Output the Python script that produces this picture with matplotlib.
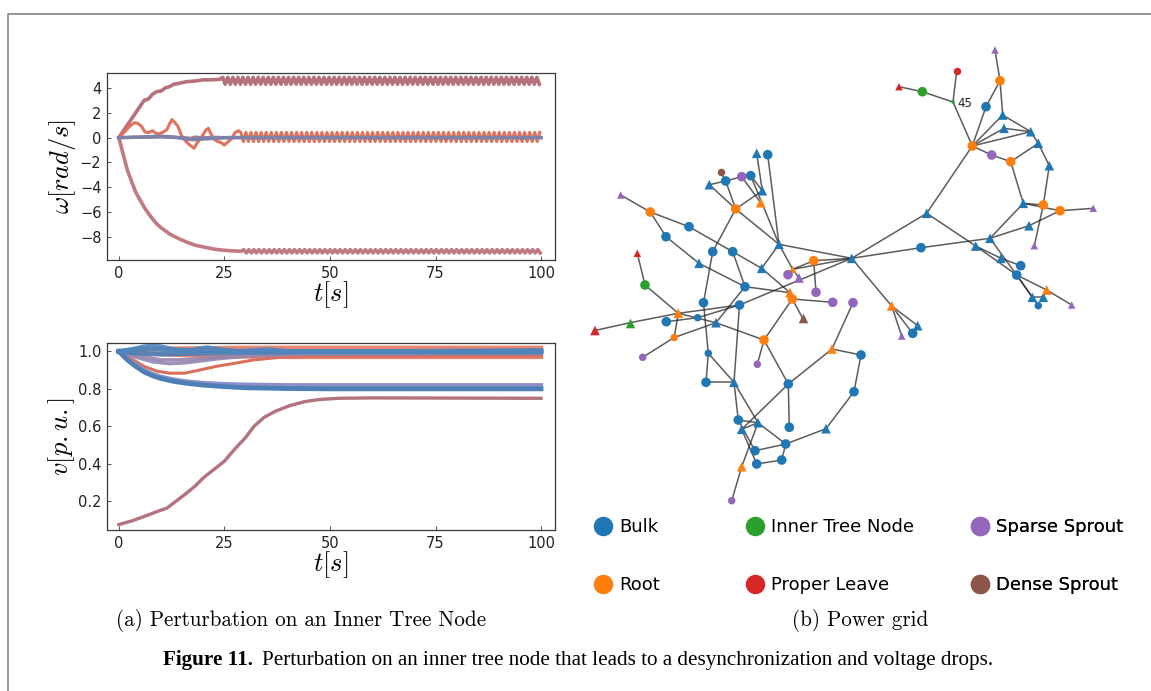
import numpy as np
import matplotlib
matplotlib.use("Agg")
import matplotlib.pyplot as plt
from matplotlib.collections import LineCollection
from matplotlib.lines import Line2D
from matplotlib.text import Annotation

plt.rcParams['mathtext.fontset'] = 'cm'
plt.rcParams['font.family'] = ['DejaVu Sans']

# ------------------------------------------------------------------
# (a) frequency traces  omega [rad/s]
# ------------------------------------------------------------------
RIPPLE_HALF = 0.6   # half period of the steady-state ripple [s]

w_up_t = [0, 1, 2, 3, 4, 5, 6, 7, 8, 9, 10, 11, 12, 13, 14, 16, 18, 20, 22, 24]
w_up = [0, 0.5, 1.0, 1.5, 2.0, 2.5, 3.0, 3.1, 3.5, 3.7, 3.75, 4.0, 4.1, 4.3,
        4.35, 4.5, 4.55, 4.65, 4.65, 4.7]
w_up_env = (4.85, 4.3)        # ripple peak / trough

w_dn_t = [0, 1, 2, 3, 4, 5, 6, 7, 8, 9, 10, 12, 14, 16, 18, 20, 23, 26, 29]
w_dn = [0, -1.3, -2.6, -3.5, -4.4, -5.0, -5.6, -6.1, -6.55, -6.95, -7.25,
        -7.75, -8.1, -8.4, -8.65, -8.8, -9.0, -9.1, -9.15]
w_dn_env = (-9.02, -9.28)

w_mid_t = [0, 1.5, 2.5, 3.7, 4.5, 5.4, 6.2, 7, 8, 8.8, 9.6, 10.5, 11.4, 12,
           12.6, 13.3, 14, 14.8, 15.6, 16.5, 17.2, 17.8, 18.6, 19.3, 19.9,
           20.6, 21.2, 21.8, 22.5, 23.3, 24.2, 25, 25.8, 26.7, 27.5, 28.3]
w_mid = [0, 0.5, 0.9, 1.2, 1.15, 0.9, 0.45, 0.4, 0.55, 0.35, 0.3, 0.45, 0.65,
         1.1, 1.45, 1.2, 0.9, 0.2, -0.2, -0.5, -0.7, -0.85, -0.4, -0.1, 0.2,
         0.6, 0.75, 0.3, -0.1, -0.3, -0.4, -0.6, -0.35, -0.1, 0.4, 0.55]
w_mid_env = (0.42, -0.32)

w_flat_t = [0, 5, 10, 13, 15, 17, 18, 20, 23, 26, 30, 100]
w_flat_a = [0, 0.05, 0.1, 0.05, -0.05, -0.15, -0.15, -0.1, -0.05, 0.0, 0.0, 0.0]
w_flat_b = [0, 0.02, 0.05, 0.0, 0.02, -0.05, 0.05, 0.0, 0.03, 0.0, 0.0, 0.0]

# ------------------------------------------------------------------
# (a) voltage magnitudes  v [p.u.]
# ------------------------------------------------------------------
v_b1_t = [0, 3, 6, 8, 10, 13, 16, 19, 21, 24, 28, 32, 35, 40, 100]
v_b1 = [1.0, 1.01, 1.025, 1.03, 1.025, 1.01, 1.0, 1.015, 1.02, 1.01, 1.0,
        1.005, 1.01, 1.0, 1.0]
v_b2_t = [0, 5, 10, 20, 30, 100]
v_b2 = [1.0, 1.015, 1.01, 1.005, 1.0, 0.995]
v_b3_t = [0, 5, 10, 20, 30, 100]
v_b3 = [1.0, 0.99, 0.985, 0.99, 0.995, 1.005]
v_s1_t = [0, 10, 30, 100]
v_s1 = [1.0, 1.015, 1.02, 1.02]
v_s2_t = [0, 10, 20, 40, 100]
v_s2 = [1.0, 0.985, 0.975, 0.97, 0.97]
v_dip_t = [0, 3, 6, 9, 12, 15.6, 19, 23, 27, 32, 38, 45, 100]
v_dip = [1.0, 0.96, 0.92, 0.895, 0.884, 0.884, 0.9, 0.92, 0.935, 0.955,
         0.968, 0.975, 0.975]
v_m1_t = [0, 4, 8, 12, 16, 23, 30, 40, 100]
v_m1 = [1.0, 0.97, 0.945, 0.935, 0.94, 0.96, 0.975, 0.985, 0.99]
v_m2_t = [0, 5, 10, 15, 25, 40, 100]
v_m2 = [1.0, 0.975, 0.955, 0.955, 0.97, 0.985, 0.995]
v_low_t = [0, 2, 4, 6, 8, 10, 13, 16, 20, 25, 30, 40, 50, 100]
v_l1 = [1.0, 0.96, 0.93, 0.9, 0.88, 0.865, 0.85, 0.84, 0.832, 0.826, 0.823,
        0.82, 0.82, 0.82]
v_l2 = [1.0, 0.955, 0.92, 0.89, 0.87, 0.855, 0.84, 0.83, 0.82, 0.812, 0.806,
        0.802, 0.80, 0.80]
v_drop_t = [0, 3, 6, 9, 11.4, 13.5, 15.6, 18, 20, 22.5, 25, 27.5, 30, 32,
            34.4, 37, 40.4, 44, 47.3, 52, 60, 100]
v_drop = [0.076, 0.095, 0.119, 0.145, 0.164, 0.2, 0.236, 0.28, 0.325, 0.37,
          0.414, 0.48, 0.54, 0.6, 0.648, 0.68, 0.71, 0.732, 0.743, 0.75,
          0.752, 0.75]

# ------------------------------------------------------------------
# (b) power grid: node layout per node class and marker shape
# ------------------------------------------------------------------
bulk_o = {
    'A7': (986, 106.7), 'C2': (921, 247.7), 'C7': (1020.7, 265.7),
    'C8': (1016.7, 275), 'C12': (1038.3, 305.7), 'C16': (912.7, 333.3),
    'D2': (767.7, 154.7), 'D4': (725.7, 181), 'D6': (750.7, 175.7),
    'D13': (712.7, 251.7), 'D14': (732.7, 251.7), 'D19': (745, 286.7),
    'D26': (739.5, 305), 'D27': (703.5, 302.7), 'E3': (689, 226.7),
    'E4': (666, 236.7), 'E15': (697.7, 317.7), 'E16': (666.3, 321.7),
    'F3': (708.3, 353.3), 'F5': (861, 355), 'F6': (706, 382.3),
    'F8': (788.3, 384), 'F9': (854, 391.7), 'F10': (738.3, 420),
    'F13': (789.3, 427.3), 'F15': (785.7, 444), 'F16': (755, 450.7),
    'F17': (756.7, 464), 'F18': (781.7, 460),
}
bulk_tri = {
    'A8': (1002.7, 115), 'A9': (1004, 128.3), 'A10': (1030.7, 131.7),
    'A12': (1038.3, 143.3), 'A15': (1049.3, 165.7), 'A16': (1023.3, 203.3),
    'A20': (926.7, 213.3), 'C3': (990, 238.3), 'C4': (1029, 225.7),
    'C5': (975.7, 246), 'C6': (1001, 258.3), 'C10': (1032.3, 297.3),
    'C11': (1043.3, 297.3), 'C15': (917.7, 325.7), 'H': (851.7, 258.3),
    'D1': (756.7, 153.3), 'D7': (709.3, 184.7), 'D8': (762.3, 190.7),
    'D11': (779, 244.3), 'D15': (761.7, 268.3), 'E8': (699, 263.3),
    'E17': (716, 322.7), 'F7': (734, 382.3), 'F11': (758, 422.7),
    'F12': (741.7, 429.3), 'F14': (826, 428.7),
}
root_o = {
    'A2': (1000, 80.7), 'A11': (972.3, 146), 'A14': (1010.7, 161.7),
    'A17': (1043.3, 205), 'A18': (1060, 210.7), 'D10': (735.7, 209),
    'D12': (813.7, 260.7), 'D21': (792.3, 299), 'D29': (764, 340),
    'E2': (650.3, 212), 'E20': (674.2, 337.5),
}
root_tri = {
    'C9': (1046.7, 290), 'C14': (891.7, 306), 'D9': (760.7, 202.7),
    'D16': (792.7, 269.3), 'D20': (790, 292.7), 'D30': (832, 349),
    'E14': (678.3, 313.3), 'F19': (741.7, 466.7),
}
inner_o = {'A4': (922.3, 91.7), 'n45': (953, 102), 'E10': (645, 285)}
inner_tri = {'E18': (630, 322.7)}
leaf_o = {'A5': (956.7, 71)}
leaf_tri = {'A3': (899, 86.7), 'E7': (637.3, 253.3), 'E19': (595, 330.5)}
sparse_o = {
    'A13': (991.7, 155), 'D5': (741.7, 176.7), 'D17': (788, 274.7),
    'D22': (816, 292.3), 'D23': (832.7, 302.3), 'D24': (853, 302.7),
    'G1': (642.7, 357.3), 'F2': (757.3, 364.3), 'F20': (731.7, 500.7),
}
sparse_tri = {
    'A1': (995, 50), 'A19': (1093.3, 208.3), 'B1': (1034.3, 245.7),
    'C13': (1071.7, 305), 'C17': (901.7, 336), 'D18': (799, 278),
    'E1': (620.7, 195),
}
dense_o = {'D3': (720.7, 171.7)}
dense_tri = {'D25': (802.7, 318.3)}

labelled_node = ('n45', '45')

edges = [
    ('A1', 'A2'), ('A2', 'A7'), ('A2', 'A8'), ('A3', 'A4'), ('A4', 'n45'),
    ('A5', 'n45'), ('n45', 'A11'), ('A7', 'A11'), ('A8', 'A11'), ('A9', 'A11'),
    ('A10', 'A11'), ('A8', 'A10'), ('A9', 'A10'), ('A10', 'A12'),
    ('A12', 'A15'), ('A12', 'A14'), ('A11', 'A13'), ('A13', 'A14'),
    ('A14', 'A16'), ('A11', 'A20'), ('A15', 'A17'), ('A17', 'B1'),
    ('A16', 'A17'), ('A16', 'A18'), ('A18', 'A19'), ('A18', 'C4'),
    ('C4', 'C3'), ('A16', 'C3'), ('C3', 'C2'), ('C2', 'H'), ('A20', 'H'),
    ('A20', 'C5'), ('C5', 'C6'), ('C6', 'C7'), ('C5', 'C8'), ('C3', 'C8'),
    ('C8', 'C9'), ('C9', 'C13'), ('C8', 'C10'), ('C8', 'C12'), ('C10', 'C11'),
    ('C11', 'C9'), ('H', 'C14'), ('C14', 'C15'), ('C14', 'C16'), ('C14', 'C17'),
    ('H', 'D11'), ('H', 'D12'), ('H', 'D16'), ('H', 'D26'), ('D12', 'D16'),
    ('D12', 'D22'), ('D11', 'D15'), ('D11', 'D16'), ('D16', 'D17'),
    ('D16', 'D18'), ('D1', 'D8'), ('D2', 'D11'), ('D6', 'D8'), ('D6', 'D11'),
    ('D5', 'D6'), ('D4', 'D5'), ('D3', 'D4'), ('D7', 'D4'), ('D7', 'D10'),
    ('D4', 'D10'), ('D5', 'D9'), ('D8', 'D10'), ('D10', 'D11'), ('D10', 'D13'),
    ('E1', 'E2'), ('E2', 'E3'), ('E3', 'D14'), ('D14', 'D15'), ('D15', 'D20'),
    ('E2', 'E4'), ('E4', 'E8'), ('E8', 'D19'), ('D14', 'D19'), ('D19', 'D20'),
    ('D20', 'D21'), ('D13', 'D27'), ('D27', 'F3'), ('D21', 'D23'),
    ('D21', 'D25'), ('D21', 'D29'), ('D24', 'D30'), ('D29', 'F2'),
    ('D29', 'F8'), ('E10', 'E7'), ('E10', 'E14'), ('E18', 'E19'),
    ('E18', 'E14'), ('E14', 'D26'), ('E14', 'E20'), ('E20', 'G1'),
    ('E16', 'E15'), ('E15', 'D26'), ('E14', 'E17'), ('E17', 'D29'),
    ('E20', 'E17'), ('E17', 'D19'), ('D26', 'F7'), ('F3', 'F6'), ('F3', 'F7'),
    ('F6', 'F7'), ('D30', 'F5'), ('F5', 'F9'), ('F9', 'F14'), ('F14', 'F15'),
    ('D30', 'F8'), ('F8', 'F13'), ('F8', 'F12'), ('F7', 'F10'), ('F7', 'F11'),
    ('F10', 'F11'), ('F12', 'F11'), ('F10', 'F16'), ('F12', 'F17'),
    ('F16', 'F15'), ('F17', 'F18'), ('F18', 'F15'), ('F11', 'F15'),
    ('F19', 'F11'), ('F19', 'F20'),
]

class_names = ['Bulk', 'Root', 'Inner Tree Node', 'Proper Leave',
               'Sparse Sprout', 'Dense Sprout']

# ------------------------------------------------------------------
# styles
# ------------------------------------------------------------------
C_BULK, C_ROOT, C_INNER = '#1f77b4', '#ff7f0e', '#2ca02c'
C_LEAF, C_SPARSE, C_DENSE = '#d62728', '#9467bd', '#8c564b'
class_colors = [C_BULK, C_ROOT, C_INNER, C_LEAF, C_SPARSE, C_DENSE]

small_nodes = {'A1', 'A3', 'A5', 'A19', 'B1', 'C13', 'C17', 'E1', 'E7', 'D3',
               'D16', 'F3', 'F2', 'G1', 'F20', 'E15', 'C12', 'E20'}
tiny_nodes = {'n45'}
S_NORMAL, S_SMALL, S_TINY = 48, 29, 7

W_PX, H_PX = 1151, 691


def rect(left, top, right, bottom):
    return [left / W_PX, 1 - bottom / H_PX, (right - left) / W_PX,
            (bottom - top) / H_PX]


def with_ripple(t, y, env, t_end=100.0):
    """Append the steady-state ripple, alternating peak and trough."""
    t_r = np.arange(t[-1] + RIPPLE_HALF, t_end + 1e-9, RIPPLE_HALF)
    y_r = np.where(np.arange(len(t_r)) % 2 == 0, env[0], env[1])
    return np.concatenate([t, t_r]), np.concatenate([y, y_r])


fig = plt.figure(figsize=(W_PX / 100, H_PX / 100), dpi=100)

# full-page layer in pixel units: grid drawing, frame and captions
ax_bg = fig.add_axes([0, 0, 1, 1])
ax_bg.set_xlim(0, W_PX)
ax_bg.set_ylim(H_PX, 0)
ax_bg.axis('off')

# page frame
fig.add_artist(Line2D([8 / W_PX, 8 / W_PX, 1.0],
                      [0.0, 1 - 14 / H_PX, 1 - 14 / H_PX],
                      transform=fig.transFigure, color='#8c8c8c', lw=1.3))


def style_axes(ax):
    for sp in ax.spines.values():
        sp.set_color('#3a3a3a')
        sp.set_linewidth(0.9)
    ax.tick_params(direction='in', length=3, width=0.7, color='#555555',
                   labelsize=10.5, pad=4, labelcolor='#222222')
    ax.set_xlim(-2.8, 103.3)
    ax.set_xticks([0, 25, 50, 75, 100])
    ax.set_xlabel(r'$t[s]$', fontsize=19, labelpad=-1)


# ---- omega panel ----
ax_w = fig.add_axes(rect(107, 73, 555, 260))
style_axes(ax_w)
ax_w.set_ylim(-9.85, 5.2)
ax_w.set_yticks([-8, -6, -4, -2, 0, 2, 4])
ax_w.set_ylabel(r'$\omega[rad/s]$', fontsize=19, labelpad=1)

t, y = with_ripple(w_up_t, w_up, w_up_env)
ax_w.plot(t, y, color='#b5717c', lw=2.6, solid_joinstyle='round')
t, y = with_ripple(w_dn_t, w_dn, w_dn_env)
ax_w.plot(t, y, color='#c07b82', lw=2.6, solid_joinstyle='round')
t, y = with_ripple(w_mid_t, w_mid, w_mid_env)
ax_w.plot(t, y, color='#e2725c', lw=2.2, solid_joinstyle='round')
ax_w.plot(w_flat_t, w_flat_b, color='#a07c98', lw=2.2)
ax_w.plot(w_flat_t, w_flat_a, color='#7f82a8', lw=2.6)

# ---- voltage panel ----
ax_v = fig.add_axes(rect(107, 343, 555, 530))
style_axes(ax_v)
ax_v.set_ylim(0.047, 1.045)
ax_v.set_yticks([0.2, 0.4, 0.6, 0.8, 1.0])
ax_v.set_yticklabels(['0.2', '0.4', '0.6', '0.8', '1.0'])
ax_v.set_ylabel(r'$v[p.u.]$', fontsize=19, labelpad=1)

ax_v.plot(v_s1_t, v_s1, color='#e57a62', lw=3.0, alpha=0.9)
ax_v.plot(v_s2_t, v_s2, color='#e57a62', lw=3.0, alpha=0.9)
ax_v.plot(v_dip_t, v_dip, color='#d9705e', lw=2.2)
ax_v.plot(v_m1_t, v_m1, color='#8f87b5', lw=2.6, alpha=0.9)
ax_v.plot(v_m2_t, v_m2, color='#9a84aa', lw=2.6, alpha=0.9)
ax_v.plot(v_b2_t, v_b2, color='#4f84ba', lw=3.4, alpha=0.9)
ax_v.plot(v_b3_t, v_b3, color='#4a80b8', lw=3.4, alpha=0.9)
ax_v.plot(v_b1_t, v_b1, color='#4e86bd', lw=3.4, alpha=0.9)
ax_v.plot(v_low_t, v_l1, color='#8c90c6', lw=3.0)
ax_v.plot(v_low_t, v_l2, color='#4b7fb6', lw=3.4)
ax_v.plot(v_drop_t, v_drop, color='#b2727e', lw=2.4)

# ---- power grid ----
groups = [
    (bulk_o, 'o', C_BULK), (bulk_tri, '^', C_BULK),
    (root_o, 'o', C_ROOT), (root_tri, '^', C_ROOT),
    (inner_o, 'o', C_INNER), (inner_tri, '^', C_INNER),
    (leaf_o, 'o', C_LEAF), (leaf_tri, '^', C_LEAF),
    (sparse_o, 'o', C_SPARSE), (sparse_tri, '^', C_SPARSE),
    (dense_o, 'o', C_DENSE), (dense_tri, '^', C_DENSE),
]
pos = {}
for nodes, _, _ in groups:
    pos.update(nodes)

segments = [[pos[a], pos[b]] for a, b in edges]
ax_bg.add_collection(LineCollection(segments, colors='#262626', alpha=0.75,
                                    linewidths=1.1, zorder=1))

for nodes, marker, color in groups:
    names = list(nodes)
    xs = [nodes[n][0] for n in names]
    ys = [nodes[n][1] for n in names]
    sizes = [S_TINY if n in tiny_nodes else S_SMALL if n in small_nodes
             else S_NORMAL for n in names]
    ax_bg.scatter(xs, ys, s=sizes, marker=marker, c=color, linewidths=0,
                  zorder=2)

nx_, ny_ = pos[labelled_node[0]]
ax_bg.annotate(labelled_node[1], (nx_, ny_), xytext=(3, -1),
               textcoords='offset points', fontsize=8.5, va='center',
               ha='left', color='#222222')

# legend: three columns of two entries
legend_x = [595.8, 747.8, 972.8]
for col in range(3):
    idx = [2 * col, 2 * col + 1]
    handles = [Line2D([], [], ls='none', marker='o', ms=13,
                      mfc=class_colors[i], mec=class_colors[i]) for i in idx]
    labels = [class_names[i] for i in idx]
    leg = ax_bg.legend(handles, labels, loc='center left',
                       bbox_to_anchor=(legend_x[col] / W_PX, 1 - 556 / H_PX),
                       bbox_transform=fig.transFigure, frameon=False,
                       fontsize=13, handlelength=0.8, handletextpad=0.5,
                       labelspacing=2.2, borderpad=0, borderaxespad=0)
    ax_bg.add_artist(leg)

# ---- captions ----
fig.text(301 / W_PX, 1 - 621 / H_PX, '(a) Perturbation on an Inner Tree Node',
         family='cmr10', fontsize=15.2, ha='center', va='center')
fig.text(860 / W_PX, 1 - 621 / H_PX, '(b) Power grid',
         family='cmr10', fontsize=15.2, ha='center', va='center')
cap = fig.text(163 / W_PX, 1 - 658 / H_PX, 'Figure 11.', family='Liberation Serif',
               fontweight='bold', fontsize=15.2, ha='left', va='center_baseline')
fig.add_artist(Annotation(
    'Perturbation on an inner tree node that leads to a desynchronization '
    'and voltage drops.', xy=(1, 0), xycoords=cap, xytext=(6.5, 0),
    textcoords='offset points', family='Liberation Serif', fontsize=15.2,
    ha='left', va='bottom'))

fig.savefig('out.png', dpi=100)
